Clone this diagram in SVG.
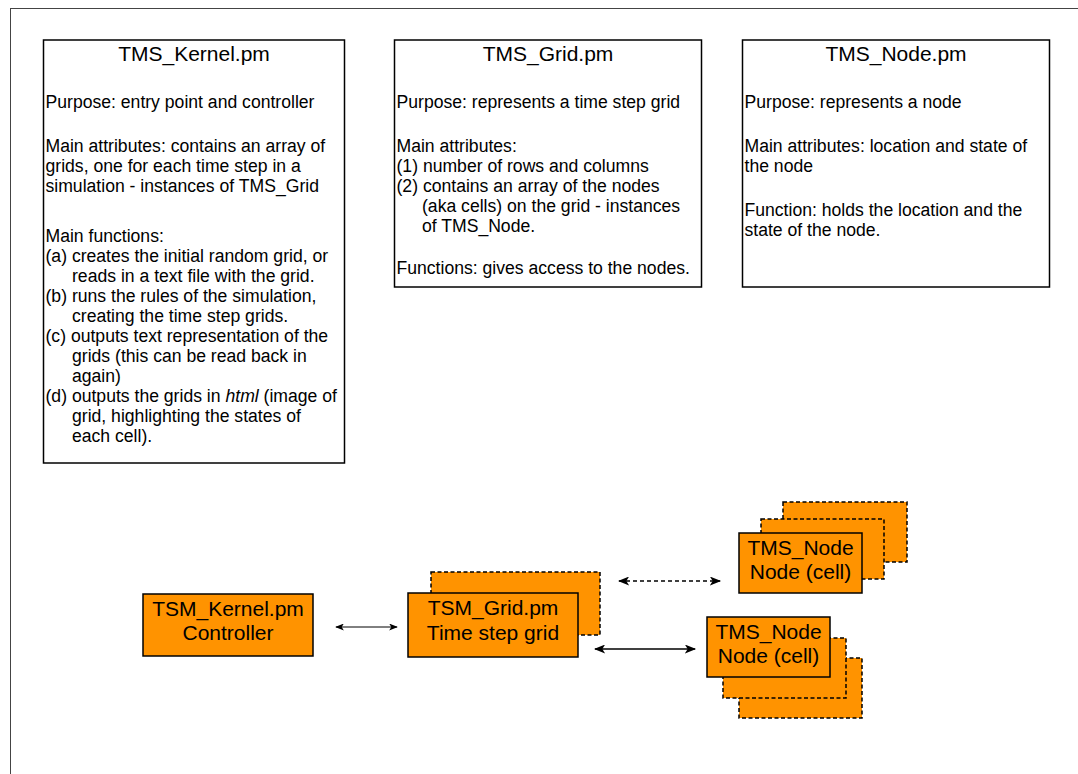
<svg xmlns="http://www.w3.org/2000/svg" width="1078" height="774" viewBox="0 0 1078 774">
  <style>
    .frame { fill: none; stroke: #444; stroke-width: 1; }
    .card { fill: #fff; stroke: #000; stroke-width: 1.5; }
    .title { font-family: "Liberation Sans", Arial, sans-serif; font-size: 21px; fill: #000; text-anchor: middle; }
    .body { font-family: "Liberation Sans", Arial, sans-serif; font-size: 17.6px; fill: #000; }
    .box { fill: #FF9300; stroke: #000; stroke-width: 1.5; }
    .copy { fill: #FF9300; stroke: #000; stroke-width: 1.5; stroke-dasharray: 4 2.5; }
    .label { font-family: "Liberation Sans", Arial, sans-serif; font-size: 21px; fill: #000; text-anchor: middle; }
    .link { fill: none; stroke: #000; }
  </style>
  <defs>
    <marker id="headSmall" viewBox="0 0 10 8" refX="9" refY="4" markerWidth="9" markerHeight="7" markerUnits="userSpaceOnUse" orient="auto-start-reverse">
      <path d="M0,0 L10,4 L0,8 L2.5,4 Z" fill="#000"/>
    </marker>
    <marker id="head" viewBox="0 0 10 8" refX="9" refY="4" markerWidth="12" markerHeight="9" markerUnits="userSpaceOnUse" orient="auto-start-reverse">
      <path d="M0,0 L10,4 L0,8 L2.5,4 Z" fill="#000"/>
    </marker>
  </defs>

  <rect width="1078" height="774" fill="#fff"/>
  <!-- page frame -->
  <rect class="frame" x="10.5" y="8.5" width="1100" height="800"/>

  <!-- module description cards -->
  <g id="kernel-card">
    <rect class="card" x="43.5" y="40" width="301" height="423"/>
    <text class="title" x="194" y="61">TMS_Kernel.pm</text>
    <text class="body">
      <tspan x="45.5" y="108">Purpose: entry point and controller</tspan>
      <tspan x="45.5" y="152">Main attributes: contains an array of</tspan>
      <tspan x="45.5" y="172">grids, one for each time step in a</tspan>
      <tspan x="45.5" y="192">simulation - instances of TMS_Grid</tspan>
      <tspan x="45.5" y="242">Main functions:</tspan>
      <tspan x="45.5" y="262">(a) creates the initial random grid, or</tspan>
      <tspan x="72" y="282">reads in a text file with the grid.</tspan>
      <tspan x="45.5" y="302">(b) runs the rules of the simulation,</tspan>
      <tspan x="72" y="322">creating the time step grids.</tspan>
      <tspan x="45.5" y="342">(c) outputs text representation of the</tspan>
      <tspan x="72" y="362">grids (this can be read back in</tspan>
      <tspan x="72" y="382">again)</tspan>
      <tspan x="45.5" y="402">(d) outputs the grids in <tspan font-style="italic">html</tspan> (image of</tspan>
      <tspan x="72" y="422">grid, highlighting the states of</tspan>
      <tspan x="72" y="442">each cell).</tspan>
    </text>
  </g>

  <g id="grid-card">
    <rect class="card" x="394.5" y="40" width="307" height="247"/>
    <text class="title" x="548" y="61">TMS_Grid.pm</text>
    <text class="body">
      <tspan x="396.5" y="108">Purpose: represents a time step grid</tspan>
      <tspan x="396.5" y="152">Main attributes:</tspan>
      <tspan x="396.5" y="172">(1) number of rows and columns</tspan>
      <tspan x="396.5" y="192">(2) contains an array of the nodes</tspan>
      <tspan x="422" y="212">(aka cells) on the grid - instances</tspan>
      <tspan x="422" y="232">of TMS_Node.</tspan>
      <tspan x="396.5" y="274">Functions: gives access to the nodes.</tspan>
    </text>
  </g>

  <g id="node-card">
    <rect class="card" x="742.5" y="40" width="307" height="247"/>
    <text class="title" x="896" y="61">TMS_Node.pm</text>
    <text class="body">
      <tspan x="744.5" y="108">Purpose: represents a node</tspan>
      <tspan x="744.5" y="152">Main attributes: location and state of</tspan>
      <tspan x="744.5" y="172">the node</tspan>
      <tspan x="744.5" y="216">Function: holds the location and the</tspan>
      <tspan x="744.5" y="236">state of the node.</tspan>
    </text>
  </g>

  <!-- runtime objects -->
  <g id="kernel">
    <rect class="box" x="143" y="594" width="170" height="62"/>
    <text class="label" x="228" y="616">TSM_Kernel.pm</text>
    <text class="label" x="228" y="640">Controller</text>
  </g>

  <g id="grid">
    <rect class="copy" x="431" y="572" width="169" height="63"/>
    <rect class="box" x="408" y="593" width="170" height="64"/>
    <text class="label" x="493" y="615">TSM_Grid.pm</text>
    <text class="label" x="493" y="640">Time step grid</text>
  </g>

  <g id="nodes-upper">
    <rect class="copy" x="783" y="502" width="124" height="60"/>
    <rect class="copy" x="761" y="519" width="123" height="60"/>
    <rect class="box" x="739" y="533" width="123" height="60"/>
    <text class="label" x="800.5" y="555">TMS_Node</text>
    <text class="label" x="800.5" y="579">Node (cell)</text>
  </g>

  <g id="nodes-lower">
    <rect class="copy" x="739" y="658" width="123" height="60"/>
    <rect class="copy" x="723" y="638" width="123" height="60"/>
    <rect class="box" x="707" y="617" width="123" height="60"/>
    <text class="label" x="768.5" y="639">TMS_Node</text>
    <text class="label" x="768.5" y="663">Node (cell)</text>
  </g>

  <g id="connectors">
    <line class="link" x1="336" y1="627" x2="397" y2="627" stroke-width="1" marker-start="url(#headSmall)" marker-end="url(#headSmall)"/>
    <line class="link" x1="595" y1="649" x2="695" y2="649" stroke-width="1.6" marker-start="url(#head)" marker-end="url(#head)"/>
    <line class="link" x1="619" y1="581" x2="720" y2="581" stroke-width="1.5" stroke-dasharray="4 3" marker-start="url(#head)" marker-end="url(#head)"/>
  </g>
</svg>
